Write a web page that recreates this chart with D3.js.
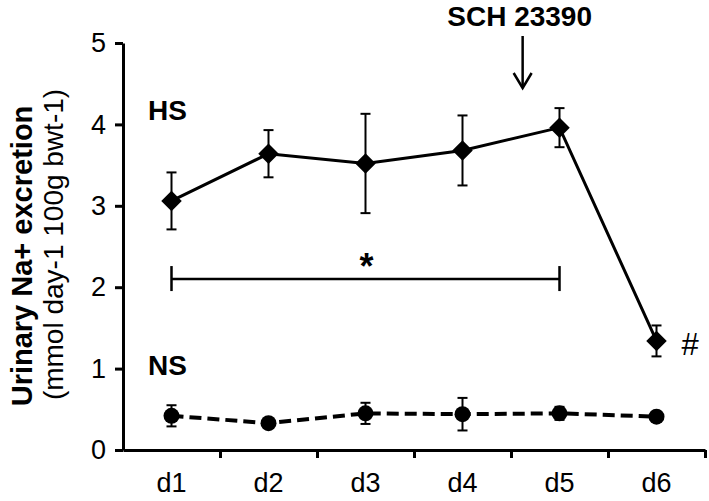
<!DOCTYPE html>
<html><head><meta charset="utf-8">
<script src="https://cdn.jsdelivr.net/npm/d3@7/dist/d3.min.js"></script>
<style>
html,body{margin:0;padding:0;background:#fff;}
svg{display:block;}
text{font-family:"Liberation Sans",Arial,sans-serif;fill:#000;}
</style></head>
<body>
<svg id="chart" width="709" height="501"></svg>
<script>
const categories = ["d1","d2","d3","d4","d5","d6"];
const hsMean = [3.06, 3.64, 3.52, 3.68, 3.96, 1.34];
const hsErr  = [0.35, 0.29, 0.61, 0.43, 0.24, 0.19];
const nsMean = [0.42, 0.33, 0.45, 0.44, 0.45, 0.41];
const nsErr  = [0.13, 0.03, 0.13, 0.20, 0.08, 0.03];
const yTicks = [0,1,2,3,4,5];
const sigBar = {from:"d1", to:"d5", value:2.1, label:"*"};
const drugLabel = "SCH 23390";
const drugAt = 4.12; // position on day-boundary axis

(function(){
const svg = d3.select("#chart");
const mLeft = 123, mRight = 705, mTop = 43, mBottom = 450;

const x = d3.scaleBand().domain(categories).range([mLeft, mRight]).padding(0);
const xb = d3.scaleLinear().domain([0, categories.length]).range([mLeft, mRight]);
const y = d3.scaleLinear().domain([0,5]).range([mBottom, mTop]);
const cx = d => x(d) + x.bandwidth()/2;

// Y axis
const yAxis = svg.append("g").attr("transform",`translate(${mLeft},0)`)
  .call(d3.axisLeft(y).tickValues(yTicks).tickFormat(d3.format("d")).tickSize(8).tickSizeOuter(0).tickPadding(9));
yAxis.select(".domain").attr("stroke","#000").attr("stroke-width",3);
yAxis.selectAll(".tick line").attr("stroke","#000").attr("stroke-width",3);
yAxis.selectAll(".tick text").attr("font-size",27);

// X axis ticks at boundaries
const xAxis = svg.append("g").attr("transform",`translate(0,${mBottom})`)
  .call(d3.axisBottom(xb).tickValues(d3.range(1, categories.length+1)).tickSize(8).tickSizeOuter(0).tickFormat(""));
xAxis.select(".domain").attr("stroke","#000").attr("stroke-width",3);
xAxis.selectAll(".tick line").attr("stroke","#000").attr("stroke-width",3);
// Category labels
const xLab = svg.append("g").attr("transform",`translate(0,${mBottom})`)
  .call(d3.axisBottom(x).tickSize(0).tickPadding(23));
xLab.select(".domain").remove();
xLab.selectAll(".tick text").attr("font-size",27);
svg.selectAll("g").attr("font-family",null).attr("font-size",null);

// Y axis title
const tg = svg.append("g").attr("transform",`translate(0,256) rotate(-90)`);
tg.append("text").attr("x",0).attr("y",32).attr("text-anchor","middle")
  .attr("font-size",29).attr("font-weight","bold").text("Urinary Na+ excretion");
tg.append("text").attr("x",11.5).attr("y",63).attr("text-anchor","middle")
  .attr("font-size",28).text("(mmol day-1 100g bwt-1)");

// HS series
const line = d3.line().x((d,i)=>cx(categories[i])).y(d=>y(d));
svg.append("path").datum(hsMean).attr("d",line).attr("fill","none")
  .attr("stroke","#000").attr("stroke-width",3);
// NS series (dashed)
svg.append("path").datum(nsMean).attr("d",line).attr("fill","none")
  .attr("stroke","#000").attr("stroke-width",4).attr("stroke-dasharray","12,6");

function errorBars(means, errs){
  const g = svg.append("g").attr("stroke","#000").attr("stroke-width",2);
  means.forEach((m,i)=>{
    const X = cx(categories[i]), y1 = y(m+errs[i]), y2 = y(m-errs[i]);
    g.append("line").attr("x1",X).attr("x2",X).attr("y1",y1).attr("y2",y2);
    g.append("line").attr("x1",X-5).attr("x2",X+5).attr("y1",y1).attr("y2",y1);
    g.append("line").attr("x1",X-5).attr("x2",X+5).attr("y1",y2).attr("y2",y2);
  });
}
errorBars(hsMean, hsErr);
errorBars(nsMean, nsErr);

// markers
svg.append("g").selectAll("path").data(hsMean).join("path")
  .attr("d", d3.symbol().type(d3.symbolSquare).size(210)())
  .attr("transform",(d,i)=>`translate(${cx(categories[i])},${y(d)}) rotate(45)`)
  .attr("fill","#000");
svg.append("g").selectAll("circle").data(nsMean).join("circle")
  .attr("cx",(d,i)=>cx(categories[i])).attr("cy",d=>y(d)).attr("r",8).attr("fill","#000");

// significance bar
const sx1 = cx(sigBar.from), sx2 = cx(sigBar.to), sy = y(sigBar.value);
const sg = svg.append("g").attr("stroke","#000").attr("stroke-width",2.5);
sg.append("line").attr("x1",sx1).attr("x2",sx2).attr("y1",sy).attr("y2",sy);
sg.append("line").attr("x1",sx1).attr("x2",sx1).attr("y1",sy-13).attr("y2",sy+12);
sg.append("line").attr("x1",sx2).attr("x2",sx2).attr("y1",sy-13).attr("y2",sy+12);
svg.append("text").attr("x",(sx1+sx2)/2+1).attr("y",sy).attr("text-anchor","middle")
  .attr("font-size",36).attr("font-weight","bold").text(sigBar.label);

// # label
svg.append("text").attr("x",cx("d6")+25).attr("y",y(hsMean[5])+14)
  .attr("font-size",31).text("#");

// series labels
svg.append("text").attr("x",xb(0)+25).attr("y",y(4.05)).attr("font-size",28).attr("font-weight","bold").text("HS");
svg.append("text").attr("x",xb(0)+25).attr("y",y(0.92)).attr("font-size",28).attr("font-weight","bold").text("NS");

// drug annotation
const ax = xb(drugAt);
svg.append("text").attr("x",ax-3).attr("y",26).attr("text-anchor","middle")
  .attr("font-size",28).attr("font-weight","bold").text(drugLabel);
const ag = svg.append("g").attr("stroke","#000").attr("stroke-width",2.5).attr("fill","none");
ag.append("line").attr("x1",ax).attr("x2",ax).attr("y1",36).attr("y2",88);
ag.append("path").attr("d",`M${ax-9},${73} L${ax},${88} L${ax+9},${73}`);
})();
</script>
</body></html>
